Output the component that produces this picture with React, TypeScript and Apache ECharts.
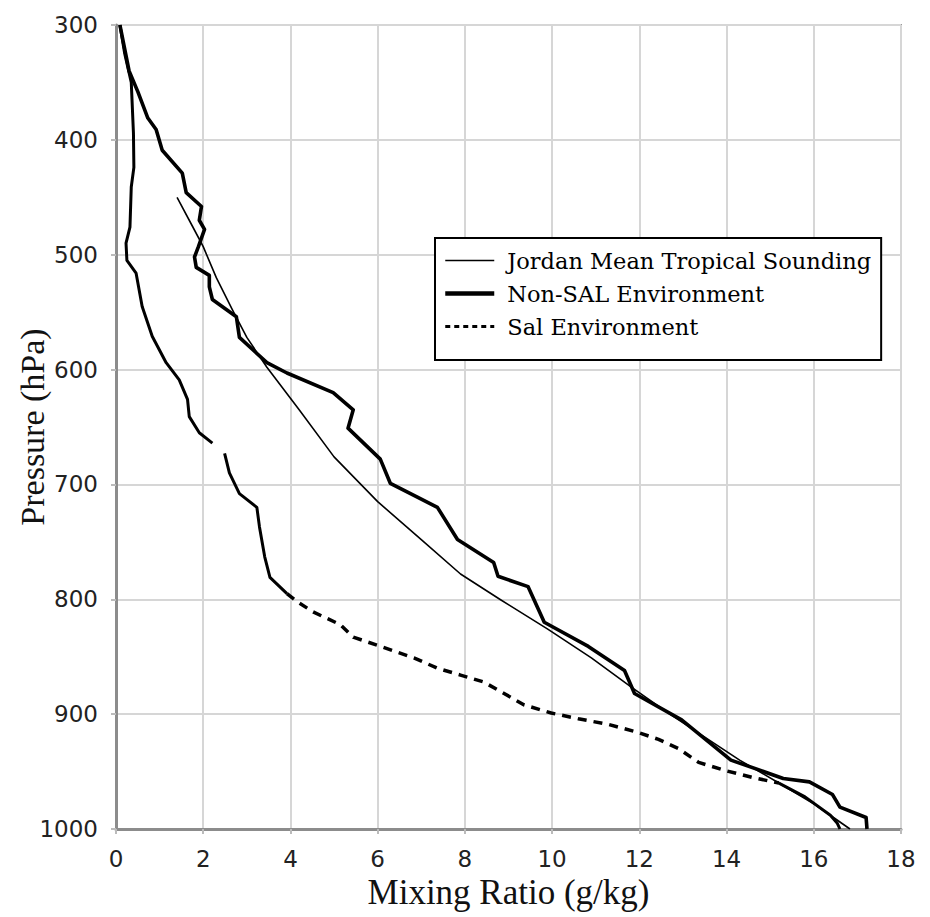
import React, { useEffect, useRef } from "react";
import * as echarts from "echarts";

// Mixing ratio (g/kg), pressure (hPa)
const jordanSounding: [number, number][] = [
  [1.4, 450], [1.75, 475], [2.0, 493], [2.3, 520], [2.67, 548], [3.0, 572],
  [3.46, 598], [4.2, 635], [5.0, 676], [6.0, 715], [7.0, 748], [7.9, 778],
  [8.8, 800], [9.9, 826], [10.9, 851], [11.8, 876], [12.7, 900], [13.5, 920],
  [14.3, 940], [15.2, 960], [16.0, 978], [16.83, 1000],
];

const nonSalEnv: [number, number][] = [
  [0.09, 300], [0.3, 340], [0.5, 358], [0.73, 381], [0.92, 391], [1.06, 409],
  [1.52, 429], [1.61, 446], [1.96, 458], [1.91, 470], [2.03, 478], [1.89, 493],
  [1.8, 502], [1.84, 511], [2.14, 518], [2.14, 528], [2.21, 539], [2.76, 554],
  [2.83, 572], [3.46, 594], [3.92, 603], [4.98, 620], [5.44, 635], [5.32, 651],
  [6.06, 678], [6.29, 699], [6.91, 711], [7.37, 720], [7.83, 748], [8.66, 768],
  [8.76, 780], [9.45, 789], [9.82, 820], [10.83, 841], [11.66, 862], [11.89, 882],
  [12.97, 905], [14.1, 940], [15.3, 956], [15.9, 959], [16.43, 970], [16.6, 981],
  [17.2, 990], [17.22, 1000],
];

const salEnvUpper: [number, number][] = [
  [0.09, 300], [0.2, 325], [0.35, 350], [0.4, 394], [0.41, 424], [0.35, 441],
  [0.32, 476], [0.23, 490], [0.25, 505], [0.46, 516], [0.6, 545], [0.83, 571],
  [1.15, 594], [1.45, 609], [1.64, 626], [1.68, 641], [1.91, 655], [2.21, 664],
];

const salEnvMiddle: [number, number][] = [
  [2.49, 673], [2.6, 690], [2.83, 708], [3.23, 720], [3.29, 737], [3.41, 763],
  [3.53, 781], [3.92, 795],
];

const salEnvLower: [number, number][] = [
  [3.92, 795], [4.15, 802], [4.52, 811], [5.14, 822], [5.44, 833], [5.99, 840],
  [6.83, 851], [7.37, 860], [7.9, 866], [8.43, 872], [8.9, 882], [9.36, 892],
  [9.98, 899], [10.6, 904], [11.3, 909], [11.98, 916], [12.44, 922], [12.9, 930],
  [13.36, 942], [13.96, 949], [14.58, 955], [15.2, 960],
];

const salEnvBottom: [number, number][] = [
  [15.2, 960], [15.8, 972], [16.38, 988], [16.54, 995], [16.6, 1000],
];

const legendNames = [
  "Jordan Mean Tropical Sounding",
  "Non-SAL Environment",
  "Sal Environment",
];

export default function App() {
  const ref = useRef<HTMLDivElement>(null);
  useEffect(() => {
    if (!ref.current) return;
    const chart = echarts.init(ref.current, undefined, { renderer: "svg" });
    const line = (name: string, data: [number, number][], width: number, type: any = "solid", z = 2) => ({
      name,
      type: "line",
      data,
      symbol: "none",
      showSymbol: false,
      z,
      lineStyle: { color: "#000", width, type, cap: "butt", join: "round" },
      itemStyle: { color: "#000" },
      emphasis: { disabled: true },
    });
    const tickLabel = {
      fontFamily: "DejaVu Sans",
      fontSize: 23,
      color: "#222",
      formatter: (v: number) => String(v),
    };
    const legendLineStyles = [
      { color: "#000", width: 1.6, type: "solid" },
      { color: "#000", width: 4.5, type: "solid" },
      { color: "#000", width: 3, type: [5, 4] },
    ];
    chart.setOption({
      animation: false,
      backgroundColor: "#fff",
      grid: {
        left: 116,
        right: 29,
        top: 25,
        bottom: 88,
        show: true,
        borderColor: "#999",
        borderWidth: 2,
        containLabel: false,
        outerBoundsMode: "none",
      },
      legend: {
        data: legendNames.map((name, i) => ({ name, lineStyle: legendLineStyles[i] })),
        orient: "vertical",
        left: 435,
        top: 238,
        itemWidth: 49,
        itemHeight: 14,
        itemGap: 10,
        padding: [11, 10, 22, 8],
        borderColor: "#000",
        borderWidth: 2,
        backgroundColor: "#fff",
        selectedMode: false,
        itemStyle: { opacity: 0, color: "transparent", borderWidth: 0 },
        textStyle: {
          fontFamily: "DejaVu Serif",
          fontSize: 22.5,
          color: "#000",
          padding: [0, 0, 0, 8],
        },
      },
      xAxis: {
        type: "value",
        min: 0,
        max: 18,
        interval: 2,
        name: "Mixing Ratio (g/kg)",
        nameLocation: "middle",
        nameGap: 45,
        nameTextStyle: { fontFamily: "Liberation Serif", fontSize: 35, color: "#111" },
        axisLine: { show: true, lineStyle: { color: "#8c8c8c", width: 3 } },
        axisTick: { show: true, length: 5, lineStyle: { color: "#bbb", width: 2 } },
        axisLabel: { ...tickLabel, margin: 18 },
        splitLine: { show: true, lineStyle: { color: "#d6d6d6", width: 2 } },
      },
      yAxis: {
        type: "value",
        inverse: true,
        min: 300,
        max: 1000,
        interval: 100,
        name: "Pressure (hPa)",
        nameLocation: "middle",
        nameGap: 67,
        nameMoveOverlap: false,
        nameTextStyle: { fontFamily: "Liberation Serif", fontSize: 34, color: "#111" },
        axisLine: { show: true, lineStyle: { color: "#8c8c8c", width: 3 } },
        axisTick: { show: true, length: 5, lineStyle: { color: "#bbb", width: 2 } },
        axisLabel: { ...tickLabel, margin: 18 },
        splitLine: { show: true, lineStyle: { color: "#d6d6d6", width: 2 } },
      },
      series: [
        line("Sal Environment", salEnvLower, 3.5, [9, 7], 3),
        line("Sal Environment", salEnvUpper, 3, "solid", 3),
        line("Sal Environment", salEnvMiddle, 3, "solid", 3),
        line("Sal Environment", salEnvBottom, 3, "solid", 3),
        line("Jordan Mean Tropical Sounding", jordanSounding, 1.6, "solid", 4),
        line("Non-SAL Environment", nonSalEnv, 3.6, "solid", 5),
      ],
    });
    return () => chart.dispose();
  }, []);
  return (
    <div
      ref={ref}
      style={{ position: "fixed", left: 0, top: 0, width: 930, height: 917 }}
    />
  );
}
